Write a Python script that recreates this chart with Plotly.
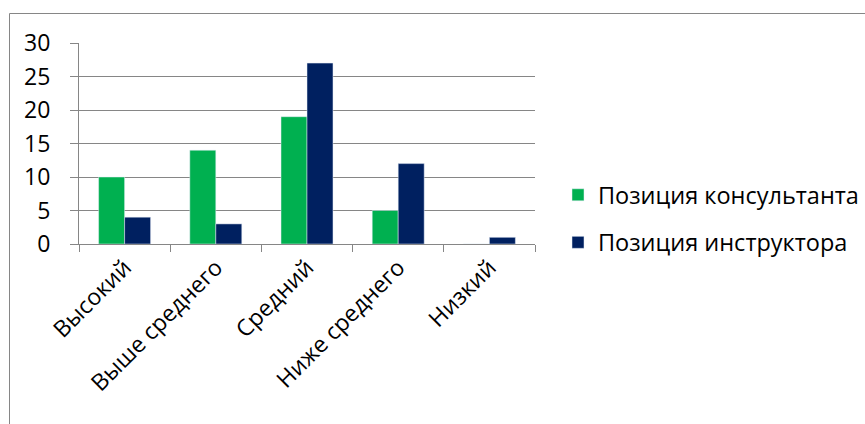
import plotly.graph_objects as go

categories = ["Высокий", "Выше среднего", "Средний", "Ниже среднего", "Низкий"]
consultant = [10, 14, 19, 5, 0]
instructor = [4, 3, 27, 12, 1]
series_names = ["Позиция консультанта", "Позиция инструктора"]
colors = ["#00B050", "#002060"]

W, H = 865, 424
L, R, T, B = 79, 535, 43, 244

fig = go.Figure()
fig.add_trace(go.Bar(x=categories, y=consultant, name=series_names[0],
                     marker_color=colors[0], legendgroup="a"))
fig.add_trace(go.Bar(x=categories, y=instructor, name=series_names[1],
                     marker_color=colors[1], legendgroup="b"))

font = "Open Sans, Noto Sans, sans-serif"
pw, ph = R - L, B - T
def px(x):
    return (x - L) / pw
def py(y):
    return (B - y) / ph

fig.update_layout(
    width=W, height=H,
    margin=dict(l=L, r=W - R, t=T, b=H - B, autoexpand=False),
    paper_bgcolor="white", plot_bgcolor="white",
    font=dict(family=font, size=23, color="black"),
    barmode="group", bargap=0.43, bargroupgap=0,
    showlegend=True,
    legend=dict(x=px(558), y=py(173), xanchor="left", yanchor="top",
                traceorder="grouped", tracegroupgap=14,
                font=dict(size=23.5), itemwidth=30),
    xaxis=dict(showline=True, linecolor="#868686", linewidth=1,
               ticks="outside", tickson="boundaries", ticklen=7,
               tickcolor="#868686", tickangle=-45, showgrid=False,
               tickfont=dict(size=23), automargin=False),
    yaxis=dict(range=[0, 30], dtick=5, showline=True, linecolor="#868686",
               linewidth=1, ticks="outside", ticklen=8, tickcolor="#868686",
               gridcolor="#868686", gridwidth=1, zeroline=False,
               tickfont=dict(size=23), ticklabelstandoff=15, automargin=False),
    shapes=[
        dict(type="line", xref="paper", yref="paper",
             x0=px(9.5), x1=px(870), y0=py(13.5), y1=py(13.5),
             line=dict(color="#868686", width=1)),
        dict(type="line", xref="paper", yref="paper",
             x0=px(9.5), x1=px(9.5), y0=py(13.5), y1=py(430),
             line=dict(color="#868686", width=1)),
    ],
)

fig.write_html("out.html")
